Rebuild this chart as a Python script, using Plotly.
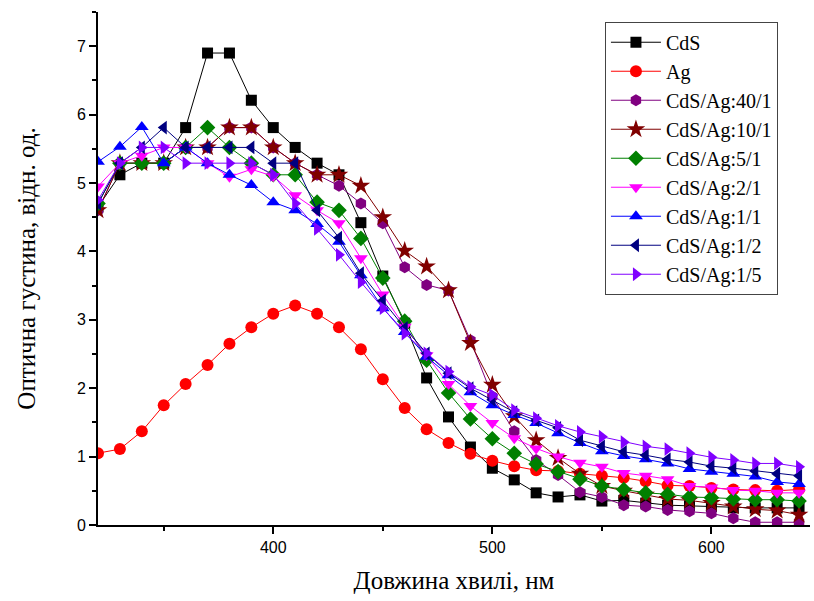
import plotly.graph_objects as go

wavelength = list(range(320, 650, 10))

cds = [4.65, 5.12, 5.29, 5.29, 5.81, 6.90, 6.90, 6.21, 5.81, 5.52, 5.29, 5.12, 4.42, 3.64, 2.95, 2.15, 1.58,
       1.14, 0.83, 0.66, 0.47, 0.41, 0.44, 0.35, 0.36, 0.32, 0.29, 0.28, 0.27, 0.25, 0.25, 0.25, 0.25]
ag = [1.05, 1.11, 1.37, 1.75, 2.06, 2.34, 2.65, 2.89, 3.09, 3.21, 3.09, 2.89, 2.57, 2.13, 1.71, 1.40, 1.20,
      1.04, 0.94, 0.86, 0.80, 0.79, 0.75, 0.72, 0.69, 0.64, 0.58, 0.57, 0.54, 0.52, 0.51, 0.50, 0.52]
r40_1 = [4.60, 5.29, 5.29, 5.29, 5.52, 5.52, 5.81, 5.81, 5.52, 5.29, 5.12, 4.96, 4.70, 4.41, 3.77, 3.51, 3.43,
         2.70, 1.88, 1.37, 0.95, 0.73, 0.48, 0.41, 0.29, 0.27, 0.22, 0.20, 0.17, 0.10, 0.04, 0.04, 0.04]
r10_1 = [4.60, 5.29, 5.29, 5.29, 5.52, 5.52, 5.81, 5.81, 5.52, 5.29, 5.12, 5.12, 4.96, 4.50, 4.01, 3.78, 3.43,
         2.66, 2.05, 1.59, 1.24, 0.98, 0.75, 0.57, 0.50, 0.44, 0.38, 0.36, 0.32, 0.27, 0.23, 0.21, 0.15]
r5_1 = [4.70, 5.29, 5.29, 5.29, 5.52, 5.81, 5.52, 5.29, 5.12, 5.12, 4.72, 4.60, 4.19, 3.61, 2.98, 2.41, 1.93,
        1.55, 1.26, 1.05, 0.89, 0.78, 0.67, 0.57, 0.52, 0.47, 0.45, 0.41, 0.40, 0.38, 0.37, 0.37, 0.35]
r2_1 = [4.95, 5.29, 5.40, 5.52, 5.52, 5.29, 5.09, 5.20, 5.10, 4.82, 4.60, 4.41, 3.90, 3.37, 2.90, 2.48, 2.06,
        1.74, 1.49, 1.27, 1.12, 1.00, 0.91, 0.85, 0.76, 0.72, 0.67, 0.57, 0.55, 0.51, 0.50, 0.47, 0.47]
r1_1 = [5.31, 5.53, 5.82, 5.29, 5.52, 5.29, 5.12, 4.97, 4.72, 4.60, 4.40, 4.14, 3.65, 3.17, 2.82, 2.46, 2.19,
        1.94, 1.75, 1.61, 1.49, 1.34, 1.20, 1.08, 1.01, 0.96, 0.90, 0.82, 0.78, 0.75, 0.71, 0.63, 0.60]
r1_2 = [4.70, 5.29, 5.52, 5.81, 5.52, 5.52, 5.52, 5.52, 5.29, 5.29, 4.60, 4.20, 3.68, 3.28, 2.88, 2.51, 2.22,
        2.00, 1.83, 1.65, 1.53, 1.42, 1.24, 1.15, 1.07, 1.02, 0.96, 0.92, 0.86, 0.83, 0.79, 0.75, 0.72]
r1_5 = [4.75, 5.29, 5.52, 5.52, 5.29, 5.29, 5.29, 5.29, 5.12, 4.70, 4.33, 3.95, 3.55, 3.17, 2.80, 2.51, 2.24,
        2.02, 1.90, 1.68, 1.56, 1.45, 1.36, 1.29, 1.21, 1.15, 1.11, 1.05, 0.99, 0.95, 0.90, 0.90, 0.85]

series = [
    ("CdS", cds, "#000000", "square"),
    ("Ag", ag, "#FF0000", "circle"),
    ("CdS/Ag:40/1", r40_1, "#800080", "hexagon"),
    ("CdS/Ag:10/1", r10_1, "#800000", "star"),
    ("CdS/Ag:5/1", r5_1, "#008000", "diamond"),
    ("CdS/Ag:2/1", r2_1, "#FF00FF", "triangle-down"),
    ("CdS/Ag:1/1", r1_1, "#0000FF", "triangle-up"),
    ("CdS/Ag:1/2", r1_2, "#000080", "triangle-left"),
    ("CdS/Ag:1/5", r1_5, "#8000FF", "triangle-right"),
]

fig = go.Figure()
for name, ys, color, sym in series:
    size = 14 if sym == "star" else 12
    if sym == "square":
        size = 11
    fig.add_trace(go.Scatter(
        x=wavelength, y=ys, name=name, mode="lines+markers",
        line=dict(color=color, width=1),
        marker=dict(symbol=sym, size=size, color=color, line=dict(width=0)),
    ))

serif = "Liberation Serif, Times New Roman, serif"
narrow = "Liberation Sans Narrow, Arial Narrow, Liberation Sans, sans-serif"

fig.update_layout(
    width=814, height=601,
    margin=dict(l=98, r=4, t=12, b=76),
    paper_bgcolor="white", plot_bgcolor="white",
    showlegend=True,
    legend=dict(
        x=0.712, y=0.981, xanchor="left", yanchor="top",
        bgcolor="white", bordercolor="#444444", borderwidth=1,
        font=dict(family=serif, size=20, color="black"),
        itemwidth=50, tracegroupgap=0, entrywidth=165,
    ),
    xaxis=dict(
        range=[320, 645], dtick=100, tick0=0,
        showline=True, linecolor="black", linewidth=2,
        ticks="outside", tickwidth=1.5, ticklen=7, tickcolor="black",
        minor=dict(dtick=50, ticks="outside", ticklen=4, tickwidth=1.5, tickcolor="black"),
        showgrid=False, zeroline=False,
        tickfont=dict(family=narrow, size=16, color="black"),
        title=dict(text="Довжина хвилі, нм", font=dict(family=serif, size=25, color="black"), standoff=16),
    ),
    yaxis=dict(
        range=[0, 7.5], dtick=1, tick0=0,
        showline=True, linecolor="black", linewidth=2,
        ticks="outside", tickwidth=1.5, ticklen=7, tickcolor="black",
        minor=dict(dtick=0.5, ticks="outside", ticklen=4, tickwidth=1.5, tickcolor="black"),
        showgrid=False, zeroline=False,
        tickfont=dict(family=narrow, size=16, color="black"),
        title=dict(text="Оптична густина, відн. од.", font=dict(family=serif, size=25, color="black"), standoff=34),
    ),
)

fig.write_html("out.html", config={"displayModeBar": False},
               post_script="document.body.style.margin='0';document.body.style.overflow='hidden';")
